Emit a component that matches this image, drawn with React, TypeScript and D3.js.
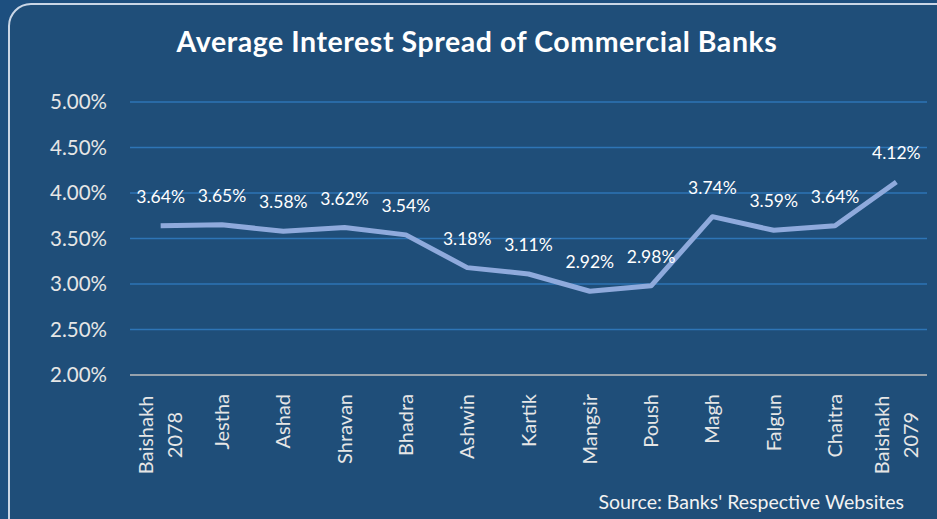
import React, { useEffect, useRef } from 'react';
import * as d3 from 'd3';

const months = [
  'Baishakh 2078',
  'Jestha',
  'Ashad',
  'Shravan',
  'Bhadra',
  'Ashwin',
  'Kartik',
  'Mangsir',
  'Poush',
  'Magh',
  'Falgun',
  'Chaitra',
  'Baishakh 2079',
];
const spread = [3.64, 3.65, 3.58, 3.62, 3.54, 3.18, 3.11, 2.92, 2.98, 3.74, 3.59, 3.64, 4.12];
const yTicks = [2, 2.5, 3, 3.5, 4, 4.5, 5];

const FONT = 'Lato, "Open Sans", sans-serif';

const App: React.FC = () => {
  const svgRef = useRef<SVGSVGElement>(null);

  useEffect(() => {
    if (!svgRef.current) return;
    const svg = d3.select(svgRef.current);
    svg.selectAll('*').remove();

    const width = 937;
    const height = 519;
    const margin = { top: 102, right: 10, bottom: 144, left: 130 };

    // backdrop
    svg.append('rect').attr('width', width).attr('height', height).attr('fill', '#1d4f7f');
    svg
      .append('rect')
      .attr('x', 9)
      .attr('y', 4)
      .attr('width', 950)
      .attr('height', 540)
      .attr('rx', 22)
      .attr('fill', '#1f4e79')
      .attr('stroke', '#c9d6e6')
      .attr('stroke-width', 2);

    svg
      .append('text')
      .attr('x', 477)
      .attr('y', 52)
      .attr('text-anchor', 'middle')
      .attr('fill', '#ffffff')
      .style('font-family', FONT)
      .style('font-weight', 700)
      .style('font-size', '28.5px')
      .style('letter-spacing', '0.55px')
      .text('Average Interest Spread of Commercial Banks');

    const x = d3
      .scaleBand()
      .domain(months)
      .range([margin.left, width - margin.right]);

    const y = d3
      .scaleLinear()
      .domain([2, 5])
      .range([height - margin.bottom, margin.top]);

    const cx = (m: string) => (x(m) || 0) + x.bandwidth() / 2;

    // gridlines
    svg
      .append('g')
      .selectAll('line')
      .data(yTicks.filter((t) => t > 2))
      .enter()
      .append('line')
      .attr('x1', margin.left)
      .attr('x2', width - margin.right)
      .attr('y1', (d) => y(d))
      .attr('y2', (d) => y(d))
      .attr('stroke', '#2e75b6')
      .attr('stroke-width', 1.5);

    svg
      .append('line')
      .attr('x1', margin.left)
      .attr('x2', width - margin.right)
      .attr('y1', y(2))
      .attr('y2', y(2))
      .attr('stroke', '#bfbfbf')
      .attr('stroke-width', 1.5);

    svg
      .append('g')
      .selectAll('text')
      .data(yTicks)
      .enter()
      .append('text')
      .attr('x', 107)
      .attr('y', (d) => y(d))
      .attr('dy', '0.35em')
      .attr('text-anchor', 'end')
      .attr('fill', '#e6e6e6')
      .style('font-family', FONT)
      .style('font-size', '20.5px')
      .text((d) => d.toFixed(2) + '%');

    // category labels, rotated
    const xl = svg.append('g');
    months.forEach((m) => {
      const lines = m.split(' ');
      const gap = 29;
      lines.forEach((ln, i) => {
        const lx = cx(m) + (i - (lines.length - 1) / 2) * gap;
        const multi = lines.length > 1;
        const ly = multi ? 435 : 394;
        xl.append('text')
          .attr('transform', `translate(${lx},${ly}) rotate(-90)`)
          .attr('text-anchor', multi ? 'middle' : 'end')
          .attr('dy', '0.35em')
          .attr('fill', '#e6e6e6')
          .style('font-family', FONT)
          .style('font-size', '20px')
          .text(ln);
      });
    });

    const line = d3
      .line<number>()
      .x((_, i) => cx(months[i]))
      .y((d) => y(d));

    svg
      .append('path')
      .datum(spread)
      .attr('d', line)
      .attr('fill', 'none')
      .attr('stroke', '#8faadc')
      .attr('stroke-width', 5)
      .attr('stroke-linejoin', 'round');

    svg
      .append('g')
      .selectAll('text')
      .data(spread)
      .enter()
      .append('text')
      .attr('x', (_, i) => cx(months[i]))
      .attr('y', (d) => y(d) - 29)
      .attr('dy', '0.35em')
      .attr('text-anchor', 'middle')
      .attr('fill', '#ffffff')
      .style('font-family', FONT)
      .style('font-size', '17.5px')
      .text((d) => d.toFixed(2) + '%');

    svg
      .append('text')
      .attr('x', 904)
      .attr('y', 509)
      .attr('text-anchor', 'end')
      .attr('fill', '#f2f2f2')
      .style('font-family', FONT)
      .style('font-size', '19.5px')
      .text("Source: Banks' Respective Websites");
  }, []);

  return (
    <div style={{ position: 'absolute', left: 0, top: 0 }}>
      <svg ref={svgRef} width="937" height="519" style={{ display: 'block' }}></svg>
    </div>
  );
};

export default App;
